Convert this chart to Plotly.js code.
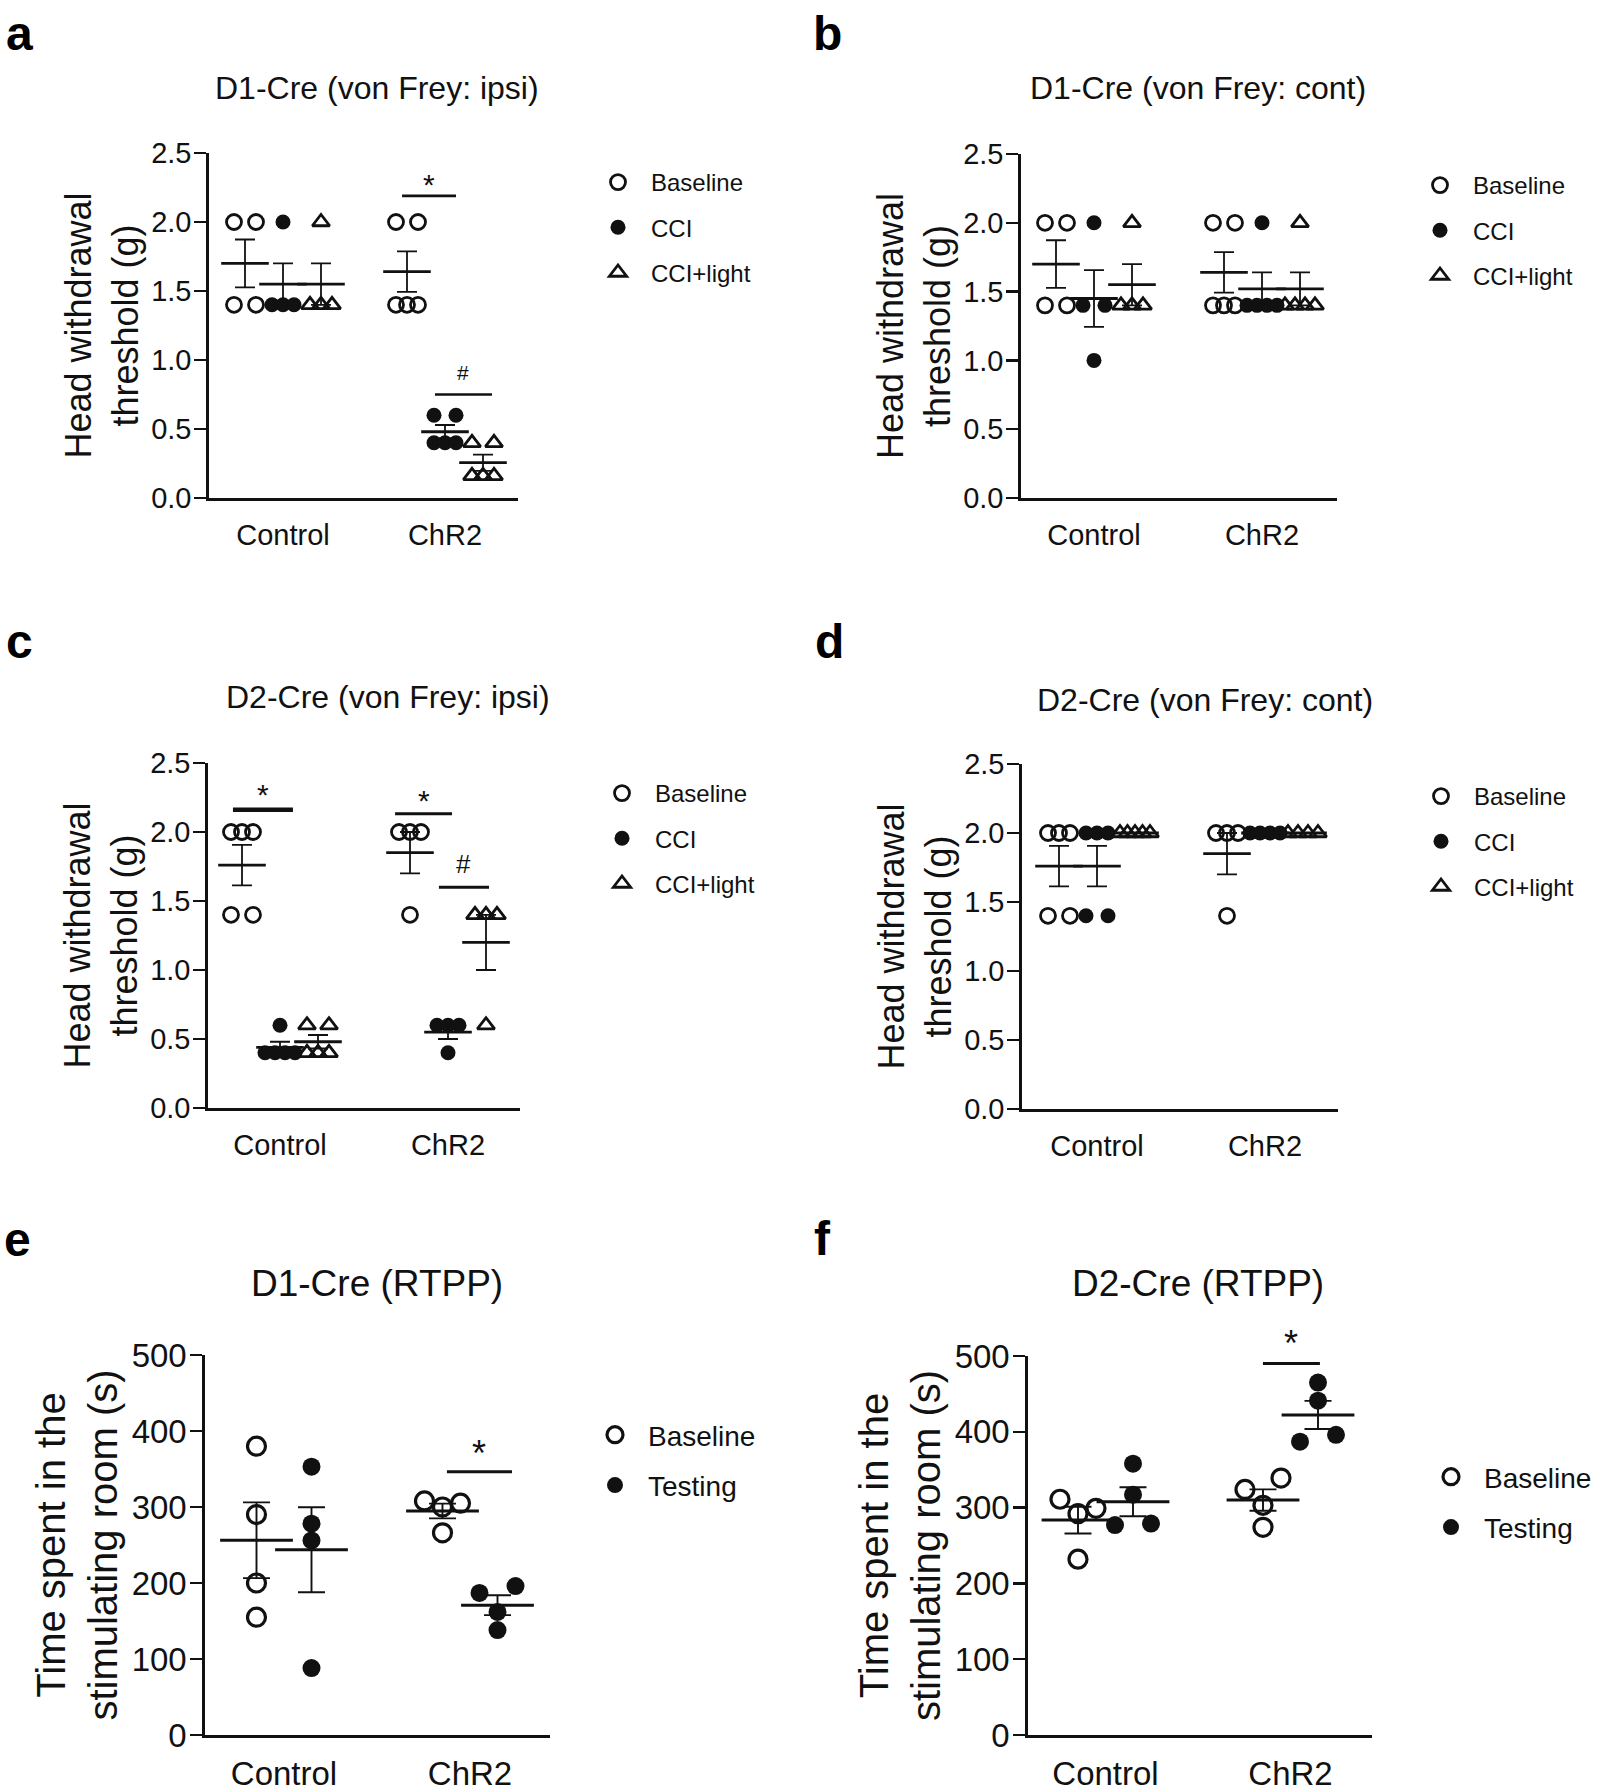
<!DOCTYPE html>
<html><head><meta charset="utf-8">
<script src="https://cdn.plot.ly/plotly-3.0.1.min.js"></script>
<style>html,body{margin:0;padding:0;background:#fff}#chart{width:1598px;height:1791px}</style>
</head><body><div id="chart"></div>
<script>
// ---------------- DATA ----------------
const groups = ['Control', 'ChR2'];
const vfSeries = ['Baseline', 'CCI', 'CCI+light'];
const rtppSeries = ['Baseline', 'Testing'];
const vfTicks = [0, 0.5, 1.0, 1.5, 2.0, 2.5];
const rtppTicks = [0, 100, 200, 300, 400, 500];

// a: D1-Cre (von Frey: ipsi)
const aCtrlBaseline = [2.0, 2.0, 1.4, 1.4];
const aCtrlCCI = [2.0, 1.4, 1.4, 1.4];
const aCtrlCCIlight = [2.0, 1.4, 1.4, 1.4];
const aChR2Baseline = [2.0, 2.0, 1.4, 1.4, 1.4];
const aChR2CCI = [0.6, 0.6, 0.4, 0.4, 0.4];
const aChR2CCIlight = [0.4, 0.4, 0.16, 0.16, 0.16];
// b: D1-Cre (von Frey: cont)
const bCtrlBaseline = [2.0, 2.0, 1.4, 1.4];
const bCtrlCCI = [2.0, 1.4, 1.4, 1.0];
const bCtrlCCIlight = [2.0, 1.4, 1.4, 1.4];
const bChR2Baseline = [2.0, 2.0, 1.4, 1.4, 1.4];
const bChR2CCI = [2.0, 1.4, 1.4, 1.4, 1.4];
const bChR2CCIlight = [2.0, 1.4, 1.4, 1.4, 1.4];
// c: D2-Cre (von Frey: ipsi)
const cCtrlBaseline = [2.0, 2.0, 2.0, 1.4, 1.4];
const cCtrlCCI = [0.6, 0.4, 0.4, 0.4, 0.4];
const cCtrlCCIlight = [0.6, 0.6, 0.4, 0.4, 0.4];
const cChR2Baseline = [2.0, 2.0, 2.0, 1.4];
const cChR2CCI = [0.6, 0.6, 0.6, 0.4];
const cChR2CCIlight = [1.4, 1.4, 1.4, 0.6];
// d: D2-Cre (von Frey: cont)
const dCtrlBaseline = [2.0, 2.0, 2.0, 1.4, 1.4];
const dCtrlCCI = [2.0, 2.0, 2.0, 1.4, 1.4];
const dCtrlCCIlight = [2.0, 2.0, 2.0, 2.0, 2.0];
const dChR2Baseline = [2.0, 2.0, 2.0, 1.4];
const dChR2CCI = [2.0, 2.0, 2.0, 2.0];
const dChR2CCIlight = [2.0, 2.0, 2.0, 2.0];
// e: D1-Cre (RTPP)
const eCtrlBaseline = [380, 290, 200, 155];
const eCtrlTesting = [353, 278, 256, 88];
const eChR2Baseline = [308, 300, 305, 266];
const eChR2Testing = [187, 196, 162, 138];
// f: D2-Cre (RTPP)
const fCtrlBaseline = [311, 292, 299, 232];
const fCtrlTesting = [358, 317, 277, 279];
const fChR2Baseline = [324, 339, 303, 274];
const fChR2Testing = [465, 441, 387, 396];

// ---------------- LAYOUT CONFIG ----------------
const W = 1598, H = 1791;
const FONT = 'Liberation Sans, Arial, Helvetica, sans-serif';
const INK = '#111111';

const kinds = {
  vf: {series: vfSeries, symbols: ['circle-open', 'circle', 'triangle-up-open'], seriesOffPx: [-38, 0, 38],
       range: [0, 2.5], ticks: vfTicks, tickformat: '.1f', ytitle: 'Head withdrawal<br>threshold (g)',
       tickSize: 29, xLabelPad: 9, ytitleSize: 36, titleSize: 32, legendSize: 24, markerSize: 15, markerLine: 2.8,
       meanLen: 34, meanW: 2.8, capW: 10, errW: 1.8, thresh: 0.01, stepPx: 11, crowdPx: 30},
  rtpp: {series: rtppSeries, symbols: ['circle-open', 'circle'], seriesOffPx: [-27.5, 27.5],
       range: [0, 500], ticks: rtppTicks, tickformat: 'd', ytitle: 'Time spent in the<br>stimulating room (s)',
       tickSize: 33, xLabelPad: 8, ytitleSize: 40, titleSize: 37, legendSize: 28, markerSize: 18, markerLine: 3.2,
       meanLen: 52, meanW: 3, capW: 13.5, errW: 1.9, thresh: 16, stepPx: 18, crowdPx: 38}
};

const panels = [
  {letter: 'a', kind: 'vf', title: 'D1-Cre (von Frey: ipsi)',
   data: [[aCtrlBaseline, aChR2Baseline], [aCtrlCCI, aChR2CCI], [aCtrlCCIlight, aChR2CCIlight]],
   box: {x0: 209, x1: 518, c1: 283, c2: 445, yTop: 153, yBot: 498}, titleAt: [377, 88], letterAt: [19, 34], legendAt: [585, 160]},
  {letter: 'b', kind: 'vf', title: 'D1-Cre (von Frey: cont)',
   data: [[bCtrlBaseline, bChR2Baseline], [bCtrlCCI, bChR2CCI], [bCtrlCCIlight, bChR2CCIlight]],
   box: {x0: 1021, x1: 1337, c1: 1094, c2: 1262, yTop: 154, yBot: 498}, titleAt: [1198, 88], letterAt: [827, 33], legendAt: [1407, 163]},
  {letter: 'c', kind: 'vf', title: 'D2-Cre (von Frey: ipsi)',
   data: [[cCtrlBaseline, cChR2Baseline], [cCtrlCCI, cChR2CCI], [cCtrlCCIlight, cChR2CCIlight]],
   box: {x0: 208, x1: 520, c1: 280, c2: 448, yTop: 763, yBot: 1108}, titleAt: [388, 697], letterAt: [19, 641], legendAt: [589, 771]},
  {letter: 'd', kind: 'vf', title: 'D2-Cre (von Frey: cont)',
   data: [[dCtrlBaseline, dChR2Baseline], [dCtrlCCI, dChR2CCI], [dCtrlCCIlight, dChR2CCIlight]],
   box: {x0: 1022, x1: 1338, c1: 1097, c2: 1265, yTop: 764, yBot: 1109}, titleAt: [1205, 700], letterAt: [830, 641], legendAt: [1408, 774]},
  {letter: 'e', kind: 'rtpp', title: 'D1-Cre (RTPP)',
   data: [[eCtrlBaseline, eChR2Baseline], [eCtrlTesting, eChR2Testing]],
   box: {x0: 205, x1: 550, c1: 284, c2: 470, yTop: 1355, yBot: 1735}, titleAt: [377, 1283], letterAt: [17, 1239], legendAt: [582, 1410]},
  {letter: 'f', kind: 'rtpp', title: 'D2-Cre (RTPP)',
   data: [[fCtrlBaseline, fChR2Baseline], [fCtrlTesting, fChR2Testing]],
   box: {x0: 1028, x1: 1372, c1: 1105.5, c2: 1290.5, yTop: 1356, yBot: 1735}, titleAt: [1198, 1283], letterAt: [822, 1238], legendAt: [1418, 1452]}
];

// significance bars (x in data units of each panel, y in data units)
const sigMarks = [
  {panel: 'a', x0: 1.735, x1: 2.068, y: 2.19, label: '*', labelY: 2.27, size: 30, w: 2.7},
  {panel: 'a', x0: 1.938, x1: 2.290, y: 0.75, label: '#', labelY: 0.91, size: 21, w: 2.7},
  {panel: 'c', x0: 0.720, x1: 1.077, y: 2.162, label: '*', labelY: 2.27, size: 30, w: 4.5},
  {panel: 'c', x0: 1.685, x1: 2.024, y: 2.133, label: '*', labelY: 2.23, size: 30, w: 3},
  {panel: 'c', x0: 1.946, x1: 2.244, y: 1.60, label: '#', labelY: 1.77, size: 26, w: 3},
  {panel: 'e', x0: 1.876, x1: 2.226, y: 346.5, label: '*', labelY: 371, size: 36, w: 3},
  {panel: 'f', x0: 1.851, x1: 2.159, y: 490, label: '*', labelY: 516, size: 36, w: 3}
];

// ---------------- HELPERS ----------------
function mean(a) { return a.reduce((s, v) => s + v, 0) / a.length; }
function sem(a) {
  const m = mean(a);
  const v = a.reduce((s, x) => s + (x - m) * (x - m), 0) / (a.length - 1);
  return Math.sqrt(v / a.length);
}
function spreadOffsets(vals, thresh, stepPx, crowdPx) {
  const idx = vals.map((v, i) => i).sort((p, q) => vals[p] - vals[q]);
  const clusters = []; let cur = [idx[0]];
  for (let t = 1; t < idx.length; t++) {
    if (vals[idx[t]] - vals[idx[t - 1]] <= thresh) cur.push(idx[t]);
    else { clusters.push(cur); cur = [idx[t]]; }
  }
  clusters.push(cur);
  const off = new Array(vals.length).fill(0);
  clusters.forEach(c => {
    c.sort((p, q) => p - q);
    const k = c.length; let offs;
    if (k === 1) offs = [0];
    else if (k === 2) offs = [-stepPx, stepPx];
    else { const s = Math.min(stepPx, crowdPx / (k - 1)); offs = c.map((_, i) => (i - (k - 1) / 2) * s); }
    c.forEach((ii, j) => { off[ii] = offs[j]; });
  });
  return off;
}

// ---------------- BUILD ----------------
const traces = [];
const layout = {
  width: W, height: H, margin: {l: 0, r: 0, t: 0, b: 0},
  paper_bgcolor: '#ffffff', plot_bgcolor: 'rgba(0,0,0,0)',
  font: {family: FONT, color: INK}, showlegend: true,
  shapes: [], annotations: []
};
const axisIds = {};

panels.forEach((p, k) => {
  const K = kinds[p.kind];
  const xa = k === 0 ? 'x' : 'x' + (k + 1);
  const ya = k === 0 ? 'y' : 'y' + (k + 1);
  const lg = k === 0 ? 'legend' : 'legend' + (k + 1);
  axisIds[p.letter] = {xa, ya, ymax: K.range[1]};
  const b = p.box;
  const ppu = b.c2 - b.c1; // pixels per x unit
  const r0 = 1 - (b.c1 - b.x0) / ppu, r1 = 1 + (b.x1 - b.c1) / ppu;

  layout[(k === 0 ? 'xaxis' : 'xaxis' + (k + 1))] = {
    domain: [b.x0 / W, b.x1 / W], range: [r0, r1], anchor: ya,
    showline: true, linewidth: 2.7, linecolor: INK, showgrid: false, zeroline: false,
    ticks: 'outside', ticklen: K.xLabelPad, tickcolor: 'rgba(0,0,0,0)',
    tickvals: [1, 2], ticktext: groups, tickfont: {size: K.tickSize, color: INK, family: FONT},
    fixedrange: true
  };
  layout[(k === 0 ? 'yaxis' : 'yaxis' + (k + 1))] = {
    domain: [1 - b.yBot / H, 1 - b.yTop / H], range: K.range, anchor: xa,
    showline: true, linewidth: 2.7, linecolor: INK, showgrid: false, zeroline: false,
    ticks: 'outside', ticklen: 12, tickwidth: 2.5, tickcolor: INK, ticklabelstandoff: -3,
    tickvals: K.ticks, tickformat: K.tickformat, tickfont: {size: K.tickSize, color: INK, family: FONT},
    title: {text: K.ytitle, font: {size: K.ytitleSize, color: INK, family: FONT}, standoff: 2},
    fixedrange: true
  };
  layout[lg] = {
    x: p.legendAt[0] / W, y: 1 - p.legendAt[1] / H, xanchor: 'left', yanchor: 'top',
    font: {size: K.legendSize, color: INK, family: FONT}, tracegroupgap: 11, itemwidth: 56,
    bgcolor: 'rgba(0,0,0,0)', borderwidth: 0, itemclick: false, itemdoubleclick: false
  };

  // raw points
  K.series.forEach((sName, j) => {
    const xs = [], ys = [];
    p.data[j].forEach((vals, i) => {
      const off = spreadOffsets(vals, K.thresh, K.stepPx, K.crowdPx);
      vals.forEach((v, n) => {
        xs.push((i + 1) + (K.seriesOffPx[j] + off[n]) / ppu);
        ys.push(v);
      });
    });
    const sym = K.symbols[j];
    const open = sym.indexOf('open') >= 0;
    traces.push({
      type: 'scatter', mode: 'markers', x: xs, y: ys, xaxis: xa, yaxis: ya,
      name: sName, legend: lg, legendgroup: p.letter + '_' + j, showlegend: true,
      cliponaxis: false, hoverinfo: 'y',
      marker: {symbol: sym, size: K.markerSize, color: INK,
               line: {width: open ? K.markerLine : 0, color: INK}}
    });
  });
  // mean +/- SEM
  K.series.forEach((sName, j) => {
    const xs = [], ys = [], es = [];
    p.data[j].forEach((vals, i) => {
      xs.push((i + 1) + K.seriesOffPx[j] / ppu);
      ys.push(mean(vals));
      es.push(sem(vals));
    });
    traces.push({
      type: 'scatter', mode: 'markers', x: xs, y: ys, xaxis: xa, yaxis: ya,
      name: sName + ' mean ± SEM', showlegend: false, legend: lg, cliponaxis: false, hoverinfo: 'y',
      marker: {symbol: 'line-ew', size: K.meanLen, color: INK, line: {width: K.meanW, color: INK}},
      error_y: {type: 'data', array: es, visible: true, width: K.capW, thickness: K.errW, color: INK}
    });
  });

  // panel title & letter
  layout.annotations.push({
    xref: 'paper', yref: 'paper', x: p.titleAt[0] / W, y: 1 - p.titleAt[1] / H,
    xanchor: 'center', yanchor: 'middle', showarrow: false, text: p.title,
    font: {size: K.titleSize, color: INK, family: FONT}
  });
  layout.annotations.push({
    xref: 'paper', yref: 'paper', x: p.letterAt[0] / W, y: 1 - p.letterAt[1] / H,
    xanchor: 'center', yanchor: 'middle', showarrow: false, text: '<b>' + p.letter + '</b>',
    font: {size: 48, color: '#000', family: FONT}
  });
});

sigMarks.forEach(s => {
  const ax = axisIds[s.panel];
  layout.shapes.push({type: 'line', xref: ax.xa, yref: ax.ya, x0: s.x0, x1: s.x1, y0: s.y, y1: s.y,
                      line: {color: INK, width: s.w}});
  // label placed relative to the y-axis domain so it can sit above the axis top
  layout.annotations.push({xref: ax.xa, yref: ax.ya + ' domain', x: (s.x0 + s.x1) / 2, y: s.labelY / ax.ymax,
                           xanchor: 'center', yanchor: 'middle', showarrow: false, text: s.label,
                           font: {size: s.size, color: INK, family: FONT}});
});

Plotly.newPlot('chart', traces, layout, {displayModeBar: false, staticPlot: true});
</script>
</body></html>
